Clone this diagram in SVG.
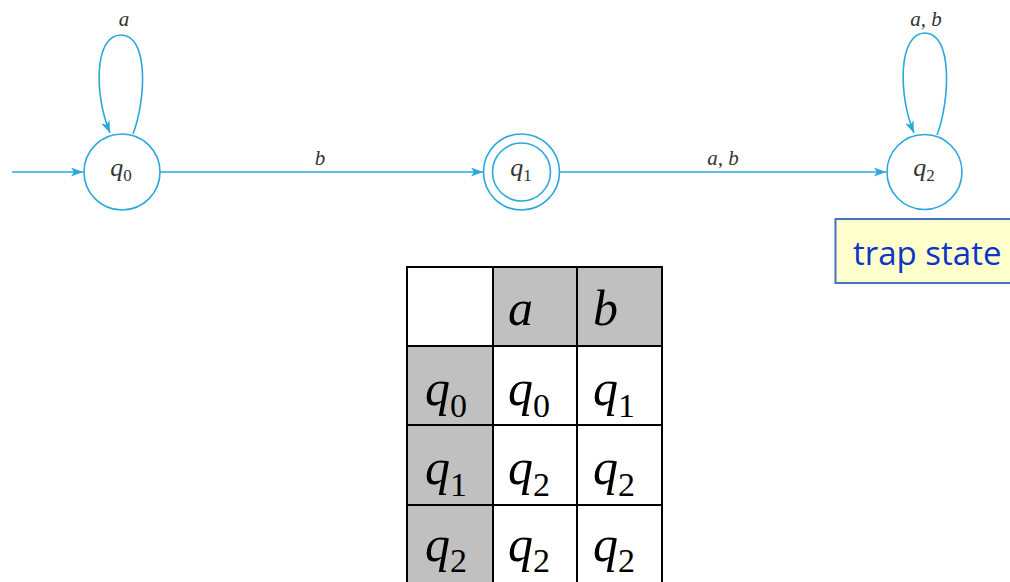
<svg xmlns="http://www.w3.org/2000/svg" width="1010" height="582" viewBox="0 0 1010 582">
  <style>
    .edge { fill: none; stroke: #2aa8dc; stroke-width: 1.6; }
    .state { fill: #ffffff; stroke: #2aa8dc; stroke-width: 1.6; }
    .slabel { font-family: "Liberation Serif", "DejaVu Serif", serif; font-size: 26px; fill: #333333; }
    .elabel { font-family: "Liberation Serif", "DejaVu Serif", serif; font-style: italic; font-size: 21px; fill: #333333; }
    .cell { stroke: #000000; stroke-width: 2; }
    .hdr { fill: #c0c0c0; }
    .plain { fill: #ffffff; }
    .tt { font-family: "Liberation Serif", "Times New Roman", serif; font-size: 50px; fill: #000000; }
    .note { font-family: "Open Sans", "Noto Sans", sans-serif; font-size: 33px; fill: #0a35c8; }
  </style>
  <defs>
    <marker id="arrow" viewBox="0 0 12 9" refX="12" refY="4.5" markerWidth="12" markerHeight="9" markerUnits="userSpaceOnUse" orient="auto">
      <path d="M0,0 L12,4.5 L0,9 L3,4.5 Z" fill="#2aa8dc"/>
    </marker>
  </defs>

  <rect width="1010" height="582" fill="#ffffff"/>

  <!-- transitions -->
  <g id="connectors">
    <line class="edge" x1="12" y1="172" x2="83" y2="172" marker-end="url(#arrow)"/>
    <path class="edge" d="M133,134 C146,100 149,35 121,35 C94,35 94,95 110,133" marker-end="url(#arrow)"/>
    <line class="edge" x1="160" y1="172" x2="483" y2="172" marker-end="url(#arrow)"/>
    <line class="edge" x1="560" y1="172" x2="886" y2="172" marker-end="url(#arrow)"/>
    <path class="edge" d="M937,135 C950,101 953,33 925,33 C898,33 898,95 914,133" marker-end="url(#arrow)"/>
    <text class="elabel" x="124" y="26" text-anchor="middle">a</text>
    <text class="elabel" x="320" y="165" text-anchor="middle">b</text>
    <text class="elabel" x="723" y="165" text-anchor="middle">a, b</text>
    <text class="elabel" x="926" y="26" text-anchor="middle">a, b</text>
  </g>

  <!-- states -->
  <g id="q0">
    <circle class="state" cx="122" cy="172" r="38"/>
    <text class="slabel" x="121" y="176" text-anchor="middle"><tspan font-style="italic">q</tspan><tspan font-size="17" dy="5">0</tspan></text>
  </g>
  <g id="q1">
    <circle class="state" cx="521.5" cy="172" r="38"/>
    <circle class="state" cx="521.5" cy="172" r="29"/>
    <text class="slabel" x="521" y="176" text-anchor="middle"><tspan font-style="italic">q</tspan><tspan font-size="17" dy="5">1</tspan></text>
  </g>
  <g id="q2">
    <circle class="state" cx="924.5" cy="172" r="37.5"/>
    <text class="slabel" x="924" y="176" text-anchor="middle"><tspan font-style="italic">q</tspan><tspan font-size="17" dy="5">2</tspan></text>
  </g>

  <!-- callout -->
  <g id="trap-note">
    <rect x="835.5" y="219" width="190" height="64" fill="#ffffcc" stroke="#4472c4" stroke-width="2"/>
    <text class="note" x="853" y="265">trap state</text>
  </g>

  <!-- transition table -->
  <g id="table">
    <rect class="cell plain" x="407" y="267" width="86" height="79"/>
    <rect class="cell hdr" x="493" y="267" width="84" height="79"/>
    <rect class="cell hdr" x="577" y="267" width="85" height="79"/>

    <rect class="cell hdr" x="407" y="346" width="86" height="79"/>
    <rect class="cell plain" x="493" y="346" width="84" height="79"/>
    <rect class="cell plain" x="577" y="346" width="85" height="79"/>

    <rect class="cell hdr" x="407" y="425" width="86" height="80"/>
    <rect class="cell plain" x="493" y="425" width="84" height="80"/>
    <rect class="cell plain" x="577" y="425" width="85" height="80"/>

    <rect class="cell hdr" x="407" y="505" width="86" height="80"/>
    <rect class="cell plain" x="493" y="505" width="84" height="80"/>
    <rect class="cell plain" x="577" y="505" width="85" height="80"/>

    <text class="tt" x="508" y="325" font-style="italic">a</text>
    <text class="tt" x="593" y="325" font-style="italic">b</text>

    <text class="tt" x="425" y="405"><tspan font-style="italic">q</tspan><tspan font-size="34" dy="12">0</tspan></text>
    <text class="tt" x="508" y="405"><tspan font-style="italic">q</tspan><tspan font-size="34" dy="12">0</tspan></text>
    <text class="tt" x="593" y="405"><tspan font-style="italic">q</tspan><tspan font-size="34" dy="12">1</tspan></text>

    <text class="tt" x="425" y="484"><tspan font-style="italic">q</tspan><tspan font-size="34" dy="12">1</tspan></text>
    <text class="tt" x="508" y="484"><tspan font-style="italic">q</tspan><tspan font-size="34" dy="12">2</tspan></text>
    <text class="tt" x="593" y="484"><tspan font-style="italic">q</tspan><tspan font-size="34" dy="12">2</tspan></text>

    <text class="tt" x="425" y="561"><tspan font-style="italic">q</tspan><tspan font-size="34" dy="11">2</tspan></text>
    <text class="tt" x="508" y="561"><tspan font-style="italic">q</tspan><tspan font-size="34" dy="11">2</tspan></text>
    <text class="tt" x="593" y="561"><tspan font-style="italic">q</tspan><tspan font-size="34" dy="11">2</tspan></text>
  </g>
</svg>
